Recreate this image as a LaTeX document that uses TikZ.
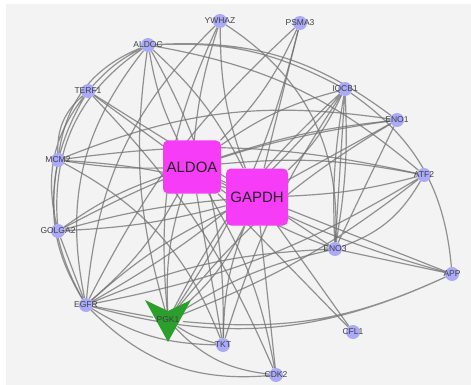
\documentclass[tikz,border=0pt]{standalone}
\usepackage{fontspec}
\setmainfont{Liberation Sans}
\usetikzlibrary{backgrounds}

\definecolor{netbg}{RGB}{243,243,243}
\definecolor{genefill}{RGB}{170,170,248}
\definecolor{hubfill}{RGB}{246,60,246}
\definecolor{pgkfill}{RGB}{44,158,44}
\definecolor{edgegray}{RGB}{112,112,112}

\tikzset{
  gene/.style={circle,fill=genefill,minimum size=14pt,inner sep=0pt,
    label={[font=\fontsize{8.5}{9}\selectfont,text=black!75]center:#1}},
  hub/.style={fill=hubfill,rounded corners=5pt,inner sep=0pt,text=black!85,
    font=\fontsize{15}{16}\selectfont},
  edge/.style={draw=edgegray,line width=1.2pt,opacity=.75},
}

\begin{document}
\begin{tikzpicture}[x=1pt,y=-1pt]
        \useasboundingbox (0,0) rectangle (471,385);
        % genes
        \node[gene=YWHAZ] (YWHAZ) at (220,21) {};
        \node[gene=PSMA3] (PSMA3) at (300,23) {};
        \node[gene=ALDOC] (ALDOC) at (148,45) {};
        \node[gene=TERF1] (TERF1) at (88,91) {};
        \node[gene=IQCB1] (IQCB1) at (345,89) {};
        \node[gene=ENO1] (ENO1) at (397,120) {};
        \node[gene=ATF2] (ATF2) at (424,175) {};
        \node[gene=MCM2] (MCM2) at (58,160) {};
        \node[gene=GOLGA2] (GOLGA2) at (58,231) {};
        \node[gene=ENO3] (ENO3) at (335,249) {};
        \node[gene=APP] (APP) at (452,274) {};
        \node[gene=EGFR] (EGFR) at (86,305) {};
        \node[gene=CFL1] (CFL1) at (353,332) {};
        \node[gene=TKT] (TKT) at (223,345) {};
        \node[gene=CDK2] (CDK2) at (276,375) {};
        \node[font=\fontsize{8.5}{9}\selectfont,text=black!75] (PGK1) at (168,320) {PGK1};
        % hubs
        \node[hub,minimum width=58pt,minimum height=53pt] (ALDOA) at (192,167) {ALDOA};
        \node[hub,minimum width=62pt,minimum height=57pt] (GAPDH) at (257,197) {GAPDH};

        \begin{pgfonlayer}{background}
        \fill[netbg] (6,4) rectangle (471,385);
        % hub edges
        \draw[edge] (ALDOA) to[bend left=6] (YWHAZ) (ALDOA) to[bend right=10] (PSMA3) (ALDOA) to[bend left=8] (ALDOC)
          (ALDOA) -- (TERF1) (ALDOA) to[bend left=5] (MCM2) (ALDOA) to[bend right=8] (GOLGA2)
          (ALDOA) to[bend left=10] (EGFR) (ALDOA) to[bend right=10] (PGK1) (ALDOA) -- (TKT)
          (ALDOA) to[bend left=10] (CDK2) (ALDOA) -- (CFL1) (ALDOA) to[bend right=8] (ENO3)
          (ALDOA) to[bend right=6] (APP) (ALDOA) to[bend left=8] (ATF2) (ALDOA) to[bend left=6] (ENO1)
          (ALDOA) to[bend left=10] (IQCB1) (ALDOA) -- (GAPDH);
        \draw[edge] (GAPDH) to[bend left=10] (YWHAZ) (GAPDH) -- (PSMA3) (GAPDH) to[bend right=10] (ALDOC)
          (GAPDH) -- (TERF1) (GAPDH) to[bend right=6] (MCM2) (GAPDH) to[bend left=6] (GOLGA2)
          (GAPDH) to[bend right=8] (EGFR) (GAPDH) to[bend left=12] (PGK1) (GAPDH) to[bend right=10] (TKT)
          (GAPDH) -- (CDK2) (GAPDH) -- (CFL1) (GAPDH) -- (ENO3)
          (GAPDH) -- (APP) (GAPDH) to[bend right=6] (ATF2) (GAPDH) -- (ENO1)
          (GAPDH) to[bend right=10] (IQCB1);
        % other edges
        \draw[edge] (ALDOC) to[bend right=10] (TERF1) (ALDOC) to[bend right=30] (MCM2)
          (ALDOC) to[bend right=30] (GOLGA2) (ALDOC) to[bend right=25] (EGFR)
          (ALDOC) to[bend right=12] (PGK1) (ALDOC) to[bend left=15] (TKT)
          (ALDOC) to[bend left=15] (IQCB1) (ALDOC) to[bend left=20] (ENO1)
          (ALDOC) to[bend left=15] (ATF2);
        \draw[edge] (TERF1) to[bend right=25] (MCM2) (TERF1) to[bend right=30] (EGFR)
          (TERF1) to[bend right=25] (GOLGA2) (TERF1) to[bend left=10] (CDK2);
        \draw[edge] (MCM2) to[bend right=20] (EGFR) (MCM2) to[bend left=15] (ENO1)
          (MCM2) to[bend left=10] (ATF2) (MCM2) to[bend left=20] (TKT);
        \draw[edge] (YWHAZ) to[bend right=15] (PGK1) (YWHAZ) to[bend right=20] (EGFR)
          (YWHAZ) to[bend left=30] (ENO3) (PSMA3) to[bend right=10] (EGFR)
          (PSMA3) to[bend left=10] (PGK1);
        \draw[edge] (IQCB1) -- (ENO3) (IQCB1) to[bend left=6] (ENO3) (IQCB1) to[bend right=6] (ENO3)
          (IQCB1) to[bend left=10] (EGFR) (IQCB1) to[bend right=10] (PGK1)
          (IQCB1) to[bend right=8] (TKT);
        \draw[edge] (ENO1) -- (ENO3) (ENO1) to[bend right=10] (PGK1) (ENO1) to[bend right=10] (GOLGA2)
          (ATF2) to[bend left=20] (ENO3) (ATF2) to[bend left=10] (EGFR) (ATF2) to[bend left=8] (PGK1);
        \draw[edge] (APP) -- (ENO3) (APP) to[bend right=25] (IQCB1) (APP) to[bend left=20] (EGFR)
          (APP) to[bend left=15] (PGK1);
        \draw[edge] (EGFR) -- (PGK1) (EGFR) to[bend right=15] (TKT) (EGFR) to[bend right=25] (CDK2)
          (EGFR) -- (GOLGA2) (EGFR) to[bend left=10] (ENO3) (GOLGA2) to[bend left=5] (GAPDH);
        \draw[edge] (PGK1) to[bend right=10] (TKT) (PGK1) to[bend right=20] (CDK2)
          (PGK1) to[bend left=10] (ENO3);
        % chevron
        \fill[pgkfill] (PGK1.center) ++(-23,-20) -- ++(23,11) -- ++(23,-11) -- ++(-23,42) -- cycle;
        \end{pgfonlayer}
\end{tikzpicture}
\end{document}
